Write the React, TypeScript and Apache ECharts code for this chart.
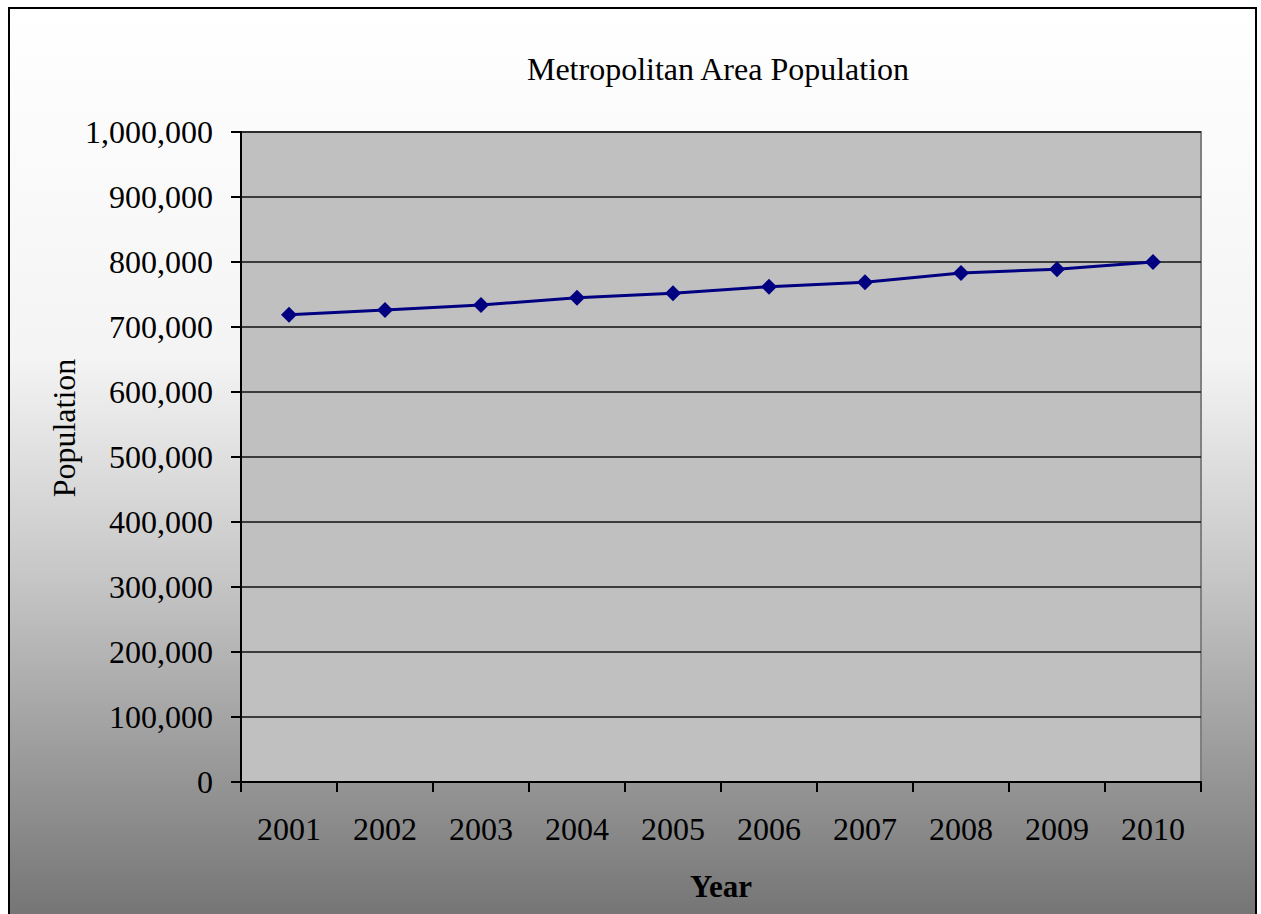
import React, { useEffect, useRef } from "react";
import * as echarts from "echarts";

const years = ["2001", "2002", "2003", "2004", "2005", "2006", "2007", "2008", "2009", "2010"];
const population = [719000, 726000, 734000, 745000, 752000, 762000, 769000, 783000, 789000, 800000];
const yMin = 0;
const yMax = 1000000;
const yInterval = 100000;

const FONT = "'Liberation Serif', 'Times New Roman', serif";

export default function App() {
  const ref = useRef<HTMLDivElement>(null);
  useEffect(() => {
    document.body.style.margin = "0";
    document.body.style.overflow = "hidden";
    if (!ref.current) return;
    const W = window.innerWidth || 1261;
    const H = window.innerHeight || 914;
    const kx = W / 1261;
    const ky = H / 914;
    const X = (v: number) => v * kx;
    const Y = (v: number) => v * ky;
    const chart = echarts.init(ref.current, null, { renderer: "svg", width: W, height: H });
    chart.setOption({
      animation: false,
      backgroundColor: "#ffffff",
      graphic: [
        {
          type: "rect",
          z: -10,
          silent: true,
          shape: { x: X(9), y: Y(8), width: X(1247), height: Y(920) },
          style: {
            fill: new echarts.graphic.LinearGradient(0, 0, 0, 1, [
              { offset: 0, color: "#ffffff" },
              { offset: 0.38, color: "#f4f4f4" },
              { offset: 0.62, color: "#c6c6c6" },
              { offset: 1, color: "#727272" },
            ]),
            stroke: "#000000",
            lineWidth: 2,
          },
        },
        {
          type: "text",
          x: X(64),
          y: Y(428),
          rotation: Math.PI / 2,
          style: {
            text: "Population",
            font: `32px ${FONT}`,
            fill: "#000",
            align: "center",
            verticalAlign: "middle",
          },
        },
      ],
      title: {
        text: "Metropolitan Area Population",
        left: X(713),
        top: Y(48),
        textAlign: "center",
        textStyle: { fontFamily: FONT, fontSize: 32, fontWeight: "normal", color: "#000" },
      },
      grid: {
        left: X(241),
        top: Y(132),
        width: X(960),
        height: Y(650),
        show: true,
        backgroundColor: "#c0c0c0",
        borderColor: "#808080",
        borderWidth: 2,
      },
      xAxis: {
        type: "category",
        data: years,
        boundaryGap: true,
        name: "Year",
        nameLocation: "middle",
        nameGap: Y(89),
        nameTextStyle: { fontFamily: FONT, fontSize: 31, fontWeight: "bold", color: "#000" },
        axisLine: { show: true, lineStyle: { color: "#000", width: 2 } },
        axisTick: { show: true, alignWithLabel: false, length: 10, lineStyle: { color: "#000", width: 2 } },
        axisLabel: { fontFamily: FONT, fontSize: 32, color: "#000", margin: Y(31) },
        splitLine: { show: false },
      },
      yAxis: {
        type: "value",
        min: yMin,
        max: yMax,
        interval: yInterval,
        axisLine: { show: true, lineStyle: { color: "#000", width: 2 } },
        axisTick: { show: true, length: 10, lineStyle: { color: "#000", width: 2 } },
        axisLabel: {
          fontFamily: FONT,
          fontSize: 32,
          color: "#000",
          margin: 28,
          formatter: (v: number) => v.toLocaleString("en-US"),
        },
        splitLine: { show: true, lineStyle: { color: "#111", width: 1.5 } },
      },
      series: [
        {
          type: "line",
          data: population,
          symbol: "diamond",
          symbolSize: 16,
          lineStyle: { color: "#000080", width: 3 },
          itemStyle: { color: "#000080" },
        },
      ],
    });
    return () => chart.dispose();
  }, []);
  return (
    <div
      ref={ref}
      style={{ position: "fixed", left: 0, top: 0, width: "100vw", height: "100vh" }}
    />
  );
}
